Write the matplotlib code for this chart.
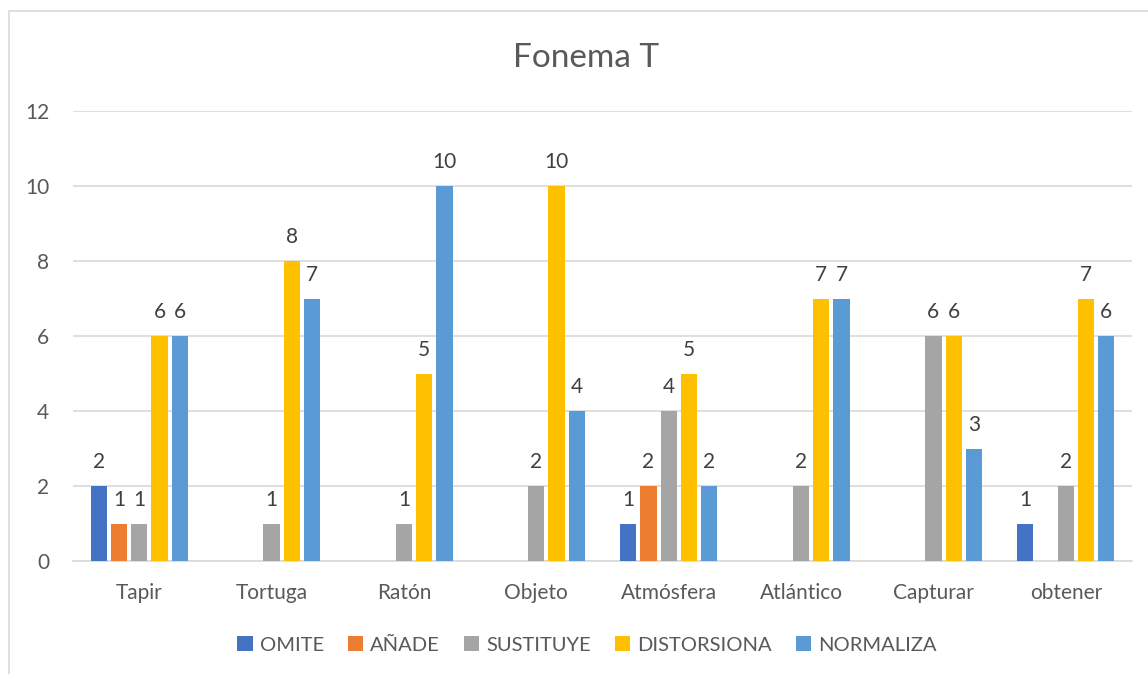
import numpy as np
import matplotlib.pyplot as plt
from matplotlib.patches import Rectangle

plt.rcParams['font.family'] = ['Lato', 'DejaVu Sans']

categories = ["Tapir", "Tortuga", "Ratón", "Objeto", "Atmósfera", "Atlántico", "Capturar", "obtener"]
series_names = ["OMITE", "AÑADE", "SUSTITUYE", "DISTORSIONA", "NORMALIZA"]
omite = [2, None, None, None, 1, None, None, 1]
anade = [1, None, None, None, 2, None, None, None]
sustituye = [1, 1, 1, 2, 4, 2, 6, 2]
distorsiona = [6, 8, 5, 10, 5, 7, 6, 7]
normaliza = [6, 7, 10, 4, 2, 7, 3, 6]
colors = ["#4472C4", "#ED7D31", "#A5A5A5", "#FFC000", "#5B9BD5"]

TXT = "#595959"

fig = plt.figure(figsize=(11.48, 6.74), dpi=100)
# chart border
fig.patches.append(Rectangle((9 / 1148, -0.1), 1.2, 1 - 11 / 674 + 0.1, transform=fig.transFigure,
                             fill=False, edgecolor="#D9D9D9", linewidth=1.2))

ax = fig.add_axes([73 / 1148, 1 - 561 / 674, (1132 - 73) / 1148, (561 - 111) / 674])

x = np.arange(len(categories))
step = 0.153
width = 0.122
for i, (name, vals, c) in enumerate(zip(series_names, [omite, anade, sustituye, distorsiona, normaliza], colors)):
    v = np.array([np.nan if a is None else a for a in vals], dtype=float)
    bars = ax.bar(x + (i - 2) * step, v, width, color=c, label=name, zorder=3)
    labels = ["" if np.isnan(a) else str(int(a)) for a in v]
    ax.bar_label(bars, labels=labels, padding=10, fontsize=15, color="#404040")

ax.set_xlim(-0.5, len(categories) - 0.5)
ax.set_ylim(0, 12)
ax.set_yticks(range(0, 13, 2))
ax.set_xticks(x)
ax.set_xticklabels(categories)
ax.tick_params(axis='both', length=0, labelsize=15, labelcolor=TXT)
ax.tick_params(axis='x', pad=16)
ax.tick_params(axis='y', pad=17)
ax.grid(axis='y', color="#D9D9D9", linewidth=1.2, zorder=0)
for s in ["top", "right", "left"]:
    ax.spines[s].set_visible(False)
ax.spines["bottom"].set_color("#D9D9D9")
ax.spines["bottom"].set_linewidth(1.2)

fig.text(586 / 1148, 1 - 58 / 674, "Fonema T", ha='center', va='center', fontsize=24, color=TXT)

fig.legend(loc='center', bbox_to_anchor=(587 / 1148, 1 - 645 / 674), ncol=5, frameon=False,
           fontsize=14.5, labelcolor=TXT, handlelength=0.75, handleheight=0.75, handletextpad=0.35,
           columnspacing=1.2)

fig.savefig("out.png", dpi=100)
